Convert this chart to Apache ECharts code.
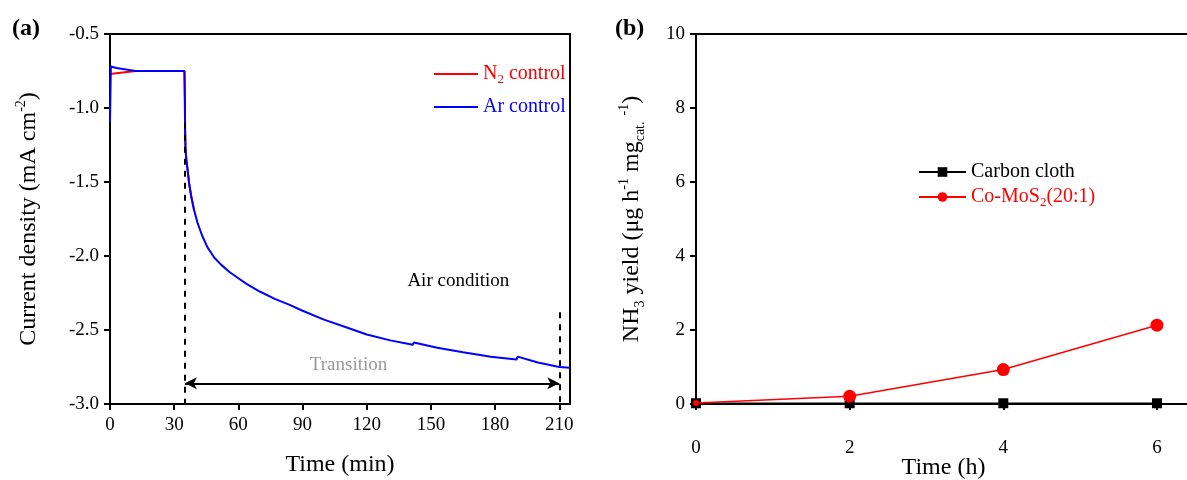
<!DOCTYPE html>
<html><head><meta charset="utf-8">
<script src="https://cdn.jsdelivr.net/npm/echarts@6/dist/echarts.min.js"></script>
<style>html,body{margin:0;padding:0;background:#fff}#c{width:1187px;height:480px}</style>
</head><body><div id="c"></div>
<script>
// ---- Panel (a) data: current density vs time ----
const arTime    = [0, 0.4, 3, 12, 20, 34.8, 35.0, 35.1, 35.3, 35.7, 36.2, 37.0, 38.0, 39.3, 41.0, 43.0, 45.5, 48.7, 52, 56, 60, 64, 70, 77, 84, 90, 100, 110, 120, 131, 141.5, 142, 153, 165, 178, 190, 190.5, 200, 210, 215];
const arCurrent = [-1.10, -0.72, -0.73, -0.75, -0.75, -0.75, -0.95, -1.15, -1.28, -1.35, -1.41, -1.51, -1.60, -1.69, -1.78, -1.86, -1.94, -2.01, -2.06, -2.11, -2.15, -2.19, -2.24, -2.29, -2.33, -2.37, -2.43, -2.48, -2.53, -2.57, -2.60, -2.585, -2.62, -2.65, -2.68, -2.70, -2.68, -2.72, -2.75, -2.755];
const n2Time    = [0, 0.5, 12, 20, 34.8, 35.0, 35.1, 35.3, 35.7, 36.2, 37.0, 38.0, 39.3];
const n2Current = [-0.77, -0.76, -0.75, -0.75, -0.75, -0.95, -1.15, -1.28, -1.35, -1.41, -1.51, -1.60, -1.69];
const xTicksA = [0, 30, 60, 90, 120, 150, 180, 210];
const transitionTimes = [35, 210];
const dashTops = [-1.1, -2.38];
const arrowLevel = -2.86;

// ---- Panel (b) data: NH3 yield vs time ----
const hours = [0, 2, 4, 6];
const carbonCloth = [0.02, 0.02, 0.02, 0.02];
const coMoS2 = [0.03, 0.21, 0.93, 2.13];
const xTicksB = [0, 2, 4, 6];

const FONT = 'Liberation Serif';
const pair = (xs, ys) => xs.map((x, i) => [x, ys[i]]);

const richAxis = {
  sup: {fontSize: 14, lineHeight: 14, verticalAlign: 'top', fontFamily: FONT},
  sub: {fontSize: 14, lineHeight: 14, verticalAlign: 'bottom', fontFamily: FONT}
};
const richLegend = {
  sub: {fontSize: 13, lineHeight: 12, verticalAlign: 'bottom', fontFamily: FONT}
};

const axisCommon = {
  nameMoveOverlap: false,
  axisLine: {show: true, lineStyle: {color: '#000', width: 2}},
  axisTick: {show: true, inside: false, length: 6, lineStyle: {color: '#000', width: 2}},
  splitLine: {show: false},
  axisLabel: {color: '#000', fontFamily: FONT, fontSize: 19, margin: 11},
  nameTextStyle: {color: '#000', fontFamily: FONT, fontSize: 24, lineHeight: 30, rich: richAxis}
};

const chart = echarts.init(document.getElementById('c'));
chart.setOption({
  animation: false,
  backgroundColor: '#fff',
  grid: [
    {left: 110, top: 34, width: 460, height: 370, outerBoundsMode: 'none', containLabel: false, show: true, borderColor: '#000', borderWidth: 2, backgroundColor: 'transparent'},
    {left: 696, top: 34, width: 495, height: 370, outerBoundsMode: 'none', containLabel: false, show: true, borderColor: '#000', borderWidth: 2, backgroundColor: 'transparent'}
  ],
  xAxis: [
    Object.assign({}, axisCommon, {
      type: 'value', gridIndex: 0, min: 0, max: 215, interval: 30,
      name: 'Time (min)', nameLocation: 'middle', nameGap: 46,
      axisTick: Object.assign({}, axisCommon.axisTick, {customValues: xTicksA}),
      axisLabel: Object.assign({}, axisCommon.axisLabel, {customValues: xTicksA, margin: 12})
    }),
    Object.assign({}, axisCommon, {
      type: 'value', gridIndex: 1, min: 0, max: 6.443,
      name: 'Time (h)', nameLocation: 'middle', nameGap: 49,
      axisTick: Object.assign({}, axisCommon.axisTick, {customValues: xTicksB}),
      axisLabel: Object.assign({}, axisCommon.axisLabel, {customValues: xTicksB, margin: 35})
    })
  ],
  yAxis: [
    Object.assign({}, axisCommon, {
      type: 'value', gridIndex: 0, min: -3, max: -0.5, interval: 0.5,
      name: 'Current density (mA cm{sup|-2})', nameLocation: 'middle', nameGap: 66, nameRotate: 90,
      axisLabel: Object.assign({}, axisCommon.axisLabel, {formatter: v => v.toFixed(1)})
    }),
    Object.assign({}, axisCommon, {
      type: 'value', gridIndex: 1, min: 0, max: 10, interval: 2,
      name: 'NH{sub|3} yield (μg h{sup|-1} mg{sub|cat.} {sup|-1})', nameLocation: 'middle', nameGap: 49, nameRotate: 90
    })
  ],
  legend: [
    {
      left: 429, top: 57, orient: 'vertical', itemWidth: 44, itemHeight: 2, itemGap: 9, icon: 'rect',
      data: [
        {name: 'N2 control', textStyle: {color: '#ff0000'}},
        {name: 'Ar control', textStyle: {color: '#0000ff'}}
      ],
      formatter: n => n === 'N2 control' ? 'N{sub|2} control' : n,
      textStyle: {fontFamily: FONT, fontSize: 20, lineHeight: 24, rich: richLegend}
    },
    {
      left: 913, top: 155, orient: 'vertical', itemWidth: 47, itemHeight: 12, itemGap: 1,
      data: [
        {name: 'Carbon cloth', textStyle: {color: '#000'}},
        {name: 'Co-MoS2(20:1)', textStyle: {color: '#ff0000'}}
      ],
      formatter: n => n === 'Co-MoS2(20:1)' ? 'Co-MoS{sub|2}(20:1)' : n,
      textStyle: {fontFamily: FONT, fontSize: 20, lineHeight: 24, rich: richLegend}
    }
  ],
  series: [
    {
      name: 'N2 control', type: 'line', xAxisIndex: 0, yAxisIndex: 0,
      data: pair(n2Time, n2Current), showSymbol: false, symbol: 'none',
      lineStyle: {color: '#ff0000', width: 2}, itemStyle: {color: '#ff0000'}, z: 2
    },
    {
      name: 'Ar control', type: 'line', xAxisIndex: 0, yAxisIndex: 0,
      data: pair(arTime, arCurrent), showSymbol: false, symbol: 'none',
      lineStyle: {color: '#0000ff', width: 2}, itemStyle: {color: '#0000ff'}, z: 3,
      markLine: {
        silent: true, symbol: 'none', label: {show: false},
        lineStyle: {color: '#000', width: 2, type: [6, 6]},
        data: transitionTimes.map((t, i) => [{coord: [t, dashTops[i]]}, {coord: [t, -3]}])
      }
    },
    {
      name: 'arrow', type: 'line', xAxisIndex: 0, yAxisIndex: 0, data: [],
      markLine: {
        silent: true, symbol: ['arrow', 'arrow'], symbolSize: [9, 12], label: {show: false},
        lineStyle: {color: '#000', width: 2, type: 'solid'},
        data: [[{coord: [transitionTimes[0], arrowLevel]}, {coord: [transitionTimes[1], arrowLevel]}]]
      }
    },
    {
      name: 'Carbon cloth', type: 'line', xAxisIndex: 1, yAxisIndex: 1,
      data: pair(hours, carbonCloth), symbol: 'rect', symbolSize: 10, clip: false,
      lineStyle: {color: '#000', width: 1.5}, itemStyle: {color: '#000'}, z: 2
    },
    {
      name: 'Co-MoS2(20:1)', type: 'line', xAxisIndex: 1, yAxisIndex: 1,
      data: pair(hours, coMoS2).map((p, i) => i === 0 ? {value: p, symbolSize: 6} : p),
      symbol: 'circle', symbolSize: 13, clip: false,
      lineStyle: {color: '#ff0000', width: 1.5}, itemStyle: {color: '#ff0000'}, z: 3
    }
  ]
});

const pTrans = chart.convertToPixel({gridIndex: 0}, [111.5, -2.736]);
const pAir = chart.convertToPixel({gridIndex: 0}, [162.8, -2.17]);
chart.setOption({
  graphic: [
    {type: 'text', left: 12, top: 17, style: {text: '(a)', font: 'bold 24px "Liberation Serif"', fill: '#000'}},
    {type: 'text', left: 615, top: 17, style: {text: '(b)', font: 'bold 24px "Liberation Serif"', fill: '#000'}},
    {type: 'text', x: pTrans[0], y: pTrans[1], style: {text: 'Transition', font: '19px "Liberation Serif"', fill: '#999', align: 'center', verticalAlign: 'middle'}},
    {type: 'text', x: pAir[0], y: pAir[1], style: {text: 'Air condition', font: '19px "Liberation Serif"', fill: '#000', align: 'center', verticalAlign: 'middle'}}
  ]
});
</script>
</body></html>
